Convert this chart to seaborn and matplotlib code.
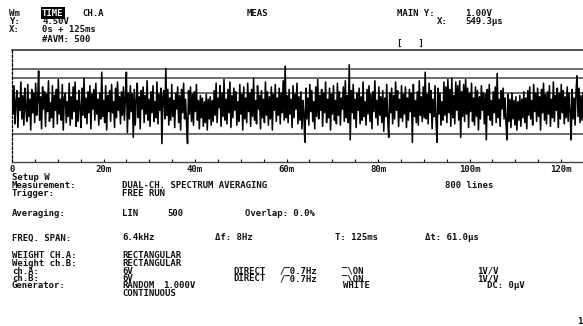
import matplotlib
matplotlib.use("Agg")
import matplotlib.pyplot as plt
import seaborn as sns
import numpy as np

# averaged time record, ch.A (volts)
signal_v = [
    1.1, -0.7, 1.6, -1.5, 0.3, 1.2, -1.8, 0.6, -0.4, 1.9, -1.1, 0.8, -1.6, 1.4, -0.2, -1.3, 1.7, -0.9, 0.5, -2.0,
    1.3, -0.6, 1.0, -1.4, 1.8, -0.8, 0.4, 2.8, -1.2, 0.7, -1.9, 1.5, -0.3, 1.1, -1.7, 0.9, -0.5, 2.0, -1.3, 0.2,
    -1.0, 1.6, -1.8, 0.8, -0.4, 1.3, -1.5, 2.1, -0.7, 0.5, -1.2, 1.7, -2.0, 0.6, 1.0, -1.4, 0.3, -0.9, 1.8, -1.6,
    0.7, -1.1, 1.5, -0.5, 1.9, -1.7, 0.4, -1.3, 1.2, -0.2, -1.8, 1.4, -0.8, 2.2, -1.0, 0.6, -1.5, 1.1, -0.6, 1.6,
    -1.9, 0.9, -0.3, 1.3, -1.2, 1.8, -0.7, 0.5, -1.6, 1.0, -1.1, 2.7, -0.9, 0.4, -1.4, 1.6, -2.0, 0.8, -0.5, 1.2,
    -1.3, 1.7, -0.6, 0.3, -1.8, 1.4, -1.0, 1.9, -0.4, 0.7, -1.5, 1.1, -0.8, 1.5, -1.2, 0.6, 2.7, -2.2, 1.0, -1.1,
    1.6, -0.5, 0.9, -2.6, 1.3, -1.6, 0.4, 1.8, -1.0, 0.7, -1.9, 1.2, -0.3, 1.5, -1.4, 0.8, -0.7, 2.0, -1.2, 0.5,
    -1.7, 1.1, -0.6, 1.6, -1.3, 0.3, -1.0, 1.9, -1.5, 0.9, -0.4, 1.4, -3.1, 0.7, 1.2, -1.1, 3.0, -0.8, 1.3, -1.6,
    0.6, -1.2, 1.7, -0.9, 0.4, -1.8, 1.0, -0.3, 1.5, -1.4, 0.8, -2.0, 1.3, -0.6, 1.8, -1.1, 0.5, -1.5, -3.1, 1.2,
    -0.7, 1.5, -1.3, 0.9, -1.6, 1.1, -0.5, 1.7, -1.2, 0.4, -1.9, 0.8, -1.0, 0.6, -1.7, 0.3, -1.4, 0.9, -2.0, 0.5,
    -1.1, 0.7, -1.6, 0.4, -1.3, 1.2, -0.8, 1.8, -1.4, 0.6, -0.2, 1.6, -1.7, 1.0, -0.9, 2.1, -1.2, 0.5, -1.5, 1.3,
    -0.6, 1.9, -1.8, 0.8, -1.0, 1.4, -0.4, 1.1, -1.6, 0.3, -1.3, 1.7, -0.7, 0.9, -2.0, 1.5, -1.1, 0.6, -1.4, 1.8,
    -0.5, 1.0, -1.7, 1.3, -0.9, 2.2, -1.2, 0.4, -1.5, 1.6, -0.3, 0.8, -1.9, 1.2, -1.0, 0.5, -1.4, 1.9, -0.8, 1.1,
    -1.6, 0.7, -1.1, 1.5, -2.0, 0.9, -0.4, 1.7, -1.3, 0.6, -0.8, 1.4, -1.5, 1.0, -0.6, 2.0, -1.2, 3.2, -1.0, 0.8,
    -1.4, 1.3, -0.7, 0.5, -1.8, 1.6, -1.0, 0.9, -0.3, 1.8, -1.5, 0.7, -1.2, 1.1, -1.9, 0.4, -0.8, -3.0, 1.4, -1.1,
    0.6, -1.6, 1.7, -0.5, 1.2, -1.3, 0.3, -1.9, 1.5, -0.9, 2.1, -1.1, 0.8, -0.4, 1.3, -1.7, 1.0, -0.6, 1.9, -1.4,
    0.5, -1.0, 1.4, -2.0, 0.9, -0.7, 1.6, -1.2, 0.4, -1.5, 1.8, -0.8, 1.1, -1.6, 0.6, -0.3, 1.5, -1.3, 2.0, -1.0,
    0.8, -1.4, 3.3, -2.8, 1.2, -0.6, 1.7, -1.1, 0.5, -1.8, 1.0, -0.4, 1.4, -1.5, 0.7, -1.2, 1.9, -0.9, 0.3, -1.6,
    1.3, -0.7, 1.6, -1.3, 0.9, -1.9, 1.1, -0.5, 2.0, -1.0, 0.4, -1.6, 1.5, -0.8, 0.7, -1.4, 1.2, -2.1, 0.6, -0.9,
    1.7, -1.2, -2.6, 1.0, -0.6, 1.4, -1.5, 0.8, -1.1, 1.9, -0.4, 1.2, -1.7, 0.5, -1.0, 1.6, -1.3, 0.9, -0.7, 1.5,
    -1.8, 0.6, -1.2, 1.3, -0.5, 1.0, -3.0, 1.7, -0.9, 0.4, -1.4, 1.1, -1.6, 2.0, -0.8, 0.7, -1.3, 1.5, -1.0, 2.7,
    -1.1, 0.9, -1.5, 1.8, -0.6, 1.2, -1.9, 0.5, -0.9, 1.6, -1.3, -3.0, 1.4, -0.7, 1.0, -1.6, 0.3, -1.2, 1.9, -0.8,
    1.5, -1.4, 2.1, -0.6, 1.3, -1.7, 2.2, -1.0, 0.8, -1.5, 1.9, -0.4, 1.6, -1.2, 2.0, -2.6, 1.1, -0.9, 1.7, -1.3,
    2.1, -0.7, 1.4, -1.8, 1.0, -0.5, 1.8, -1.3, 0.6, -1.6, 1.5, -0.9, 1.2, -2.0, 0.7, -1.1, 1.6, -0.4, 1.0, -1.5,
    0.9, -2.8, 1.3, -0.8, 1.7, -1.2, 0.4, -1.6, 1.1, -0.6, 1.5, -1.4, 2.6, -1.0, 0.5, -1.7, 1.2, -0.3, 1.4, -1.1,
    0.6, -1.5, -2.8, 0.9, -1.3, 0.5, -1.8, 1.0, -1.1, 0.4, -1.6, 0.7, -2.0, 0.3, -1.2, 0.8, -1.7, 0.5, -1.0, 1.1,
    -1.4, 0.6, -1.9, 1.2, -0.8, 1.5, -1.1, 0.4, -1.6, 1.7, -0.5, 1.0, -1.3, 1.4, -0.9, 0.7, -2.0, 1.3, -0.6, 1.8,
    -1.2, 0.9, -1.5, 1.1, -0.7, 1.6, -1.7, 0.5, -1.0, 1.9, -1.3, 0.8, -0.4, 1.4, -1.8, 1.0, -1.1, 1.7, -0.6, 1.2,
    -1.5, 0.7, -1.0, 1.5, -1.3, 1.0, -0.5, -2.8, 1.3, -1.1, 0.6, -1.6, 1.2, 2.4, -0.9, 1.4, -1.4, 0.8, -1.2, 1.0,
]
sample_ms = 0.2155         # time between samples shown
ref_levels = [2.97, 2.26, 0.99, -2.34]
tick_ms = [0, 20, 40, 60, 80, 100, 120]
tick_labels = ['0', '20m', '40m', '60m', '80m', '100m', '120m']

t_ms = np.arange(len(signal_v)) * sample_ms

W, H = 583, 326
sns.set_style('white')
plt.rcParams['font.family'] = ['DejaVu Sans Mono', 'DejaVu Sans']
FS = 6.5
INK = '#111111'

fig = plt.figure(figsize=(W / 100, H / 100), dpi=100)
ax = fig.add_axes([12 / W, 1 - 162 / H, (584 - 12) / W, (162 - 50) / H])

for lv in ref_levels:
    ax.axhline(lv, color='#555555', lw=1.2, zorder=1)
sns.lineplot(x=t_ms, y=signal_v, ax=ax, color='black', lw=1.15, zorder=2)

ax.set_xlim(0, 125)
ax.set_ylim(-4.6, 4.5)
ax.set_yticks([])
ax.set_xticks(tick_ms)
ax.set_xticklabels(tick_labels)
ax.set_xticks(np.arange(0, 126, 5), minor=True)
ax.tick_params(axis='x', which='both', direction='in', length=2.5, width=0.8,
               color=INK, labelsize=FS, labelcolor=INK, pad=2.5, bottom=True)
for lab in ax.get_xticklabels():
    lab.set_fontweight('bold')
ax.set_xlabel('')
ax.set_ylabel('')
for s in ['top', 'bottom', 'left', 'right']:
    ax.spines[s].set_color('#444444')
ax.spines['right'].set_visible(False)
ax.spines['top'].set_linewidth(1.3)
ax.spines['bottom'].set_linewidth(1.0)
ax.spines['left'].set_linestyle((0, (2, 1.5)))
ax.spines['left'].set_linewidth(0.9)
ax.spines['left'].set_color('black')


def txt(x, y, s, **kw):
    kw.setdefault('color', INK)
    kw.setdefault('fontweight', 'bold')
    fig.text(x / W, 1 - y / H, s, ha='left', va='center', fontsize=FS, **kw)


# header
txt(9, 13, 'Wm')
txt(42, 13, 'TIME', color='white',
    bbox=dict(boxstyle='square,pad=0.12', fc='black', ec='none'))
txt(82, 13, 'CH.A')
txt(247, 13, 'MEAS')
txt(397, 13, 'MAIN Y:')
txt(465, 13, '1.00V')
txt(9, 21, 'Y:')
txt(42, 21, '4.50V')
txt(437, 22, 'X:')
txt(465, 22, '549.3µs')
txt(9, 30, 'X:')
txt(42, 30, '0s + 125ms')
txt(42, 39, '#AVM: 500')
txt(397, 43, '[   ]')

# setup block
txt(12, 178, 'Setup W')
txt(12, 185.5, 'Measurement:')
txt(122, 185.5, 'DUAL-CH. SPECTRUM AVERAGING')
txt(445, 185.5, '800 lines')
txt(12, 193, 'Trigger:')
txt(122, 193, 'FREE RUN')
txt(12, 214, 'Averaging:')
txt(122, 214, 'LIN')
txt(167, 214, '500')
txt(245, 214, 'Overlap: 0.0%')
txt(12, 238, 'FREQ. SPAN:')
txt(122, 238, '6.4kHz')
txt(215, 238, 'Δf: 8Hz')
txt(335, 238, 'T: 125ms')
txt(425, 238, 'Δt: 61.0µs')
txt(12, 256, 'WEIGHT CH.A:')
txt(122, 256, 'RECTANGULAR')
txt(12, 263.5, 'Weight ch.B:')
txt(122, 263.5, 'RECTANGULAR')
txt(12, 271, 'ch.A:')
txt(122, 271, '6V')
txt(233, 271, 'DIRECT')
txt(279, 271, '/‾0.7Hz')
txt(342, 271, '‾\\ON')
txt(477, 271, '1V/V')
txt(12, 278.5, 'ch.B:')
txt(122, 278.5, '6V')
txt(233, 278.5, 'DIRECT')
txt(279, 278.5, '/‾0.7Hz')
txt(342, 278.5, '‾\\ON')
txt(477, 278.5, '1V/V')
txt(12, 286, 'Generator:')
txt(122, 286, 'RANDOM')
txt(163, 286, '1.000V')
txt(343, 286, 'WHITE')
txt(487, 286, 'DC: 0µV')
txt(122, 293.5, 'CONTINUOUS')
txt(577, 321, '1')

fig.savefig('out.png', dpi=100)
plt.close(fig)
